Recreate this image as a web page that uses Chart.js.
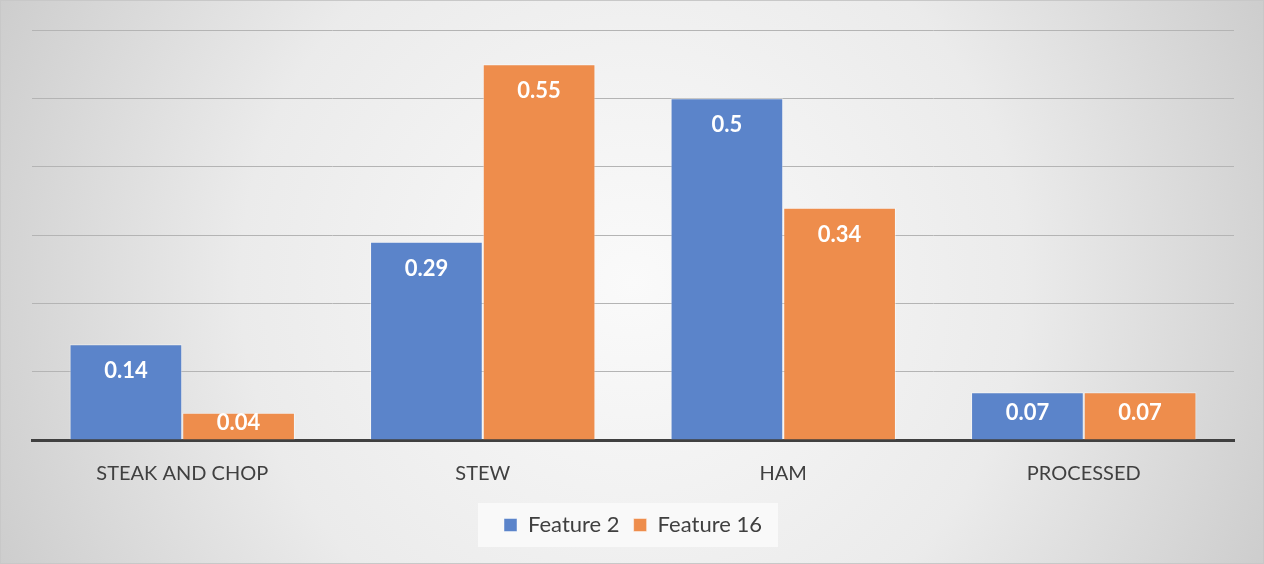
<!DOCTYPE html>
<html><head><meta charset="utf-8">
<script src="https://cdn.jsdelivr.net/npm/chart.js@4"></script>
<style>html,body{margin:0;padding:0;background:#fff}#wrap{width:1264px;height:564px}</style>
</head><body><div id="wrap"><canvas id="c" width="1264" height="564"></canvas></div>
<script>
const categories = ["STEAK AND CHOP", "STEW", "HAM", "PROCESSED"];
const feature2 = [0.14, 0.29, 0.5, 0.07];
const feature16 = [0.04, 0.55, 0.34, 0.07];
const seriesNames = ["Feature 2", "Feature 16"];

const bgPlugin = {
  id: 'bg',
  beforeDraw(chart) {
    const {ctx, width, height} = chart;
    ctx.save();
    const g = ctx.createRadialGradient(width/2, height/2, 0, width/2, height/2, width*0.62);
    g.addColorStop(0, '#fafafa');
    g.addColorStop(0.5, '#ebebeb');
    g.addColorStop(1, '#c4c4c4');
    ctx.fillStyle = g;
    ctx.fillRect(0, 0, width, height);
    ctx.strokeStyle = '#c8c8c8';
    ctx.lineWidth = 1;
    ctx.strokeRect(0.5, 0.5, width-1, height-1);
    const lg = chart.legend;
    if (lg && lg.legendHitBoxes && lg.legendHitBoxes.length) {
      const hb = lg.legendHitBoxes;
      const cy = hb[0].top + hb[0].height/2;
      const l = hb[0].left - 26, r = hb[hb.length-1].left + hb[hb.length-1].width + 16;
      ctx.fillStyle = 'rgba(250,250,250,0.85)';
      ctx.fillRect(l, cy - 22, r - l, 44);
    }
    ctx.restore();
  }
};

const labelPlugin = {
  id: 'vals',
  afterDatasetsDraw(chart) {
    const {ctx} = chart;
    ctx.save();
    ctx.font = 'bold 22px Lato, "Open Sans", sans-serif';
    ctx.fillStyle = '#ffffff';
    ctx.textAlign = 'center';
    ctx.textBaseline = 'middle';
    chart.data.datasets.forEach((ds, i) => {
      const meta = chart.getDatasetMeta(i);
      meta.data.forEach((bar, j) => {
        const top = bar.y, base = bar.base;
        const y = Math.min(top + 27, (top + base)/2 - 3);
        ctx.fillText(String(ds.data[j]), bar.x, y);
      });
    });
    ctx.restore();
  }
};

new Chart(document.getElementById('c'), {
  type: 'bar',
  data: {
    labels: categories,
    datasets: [
      {label: seriesNames[0], data: feature2, backgroundColor: '#5b84ca', borderColor: 'rgba(255,255,255,0.45)', borderWidth: 1, categoryPercentage: 0.75, barPercentage: 1},
      {label: seriesNames[1], data: feature16, backgroundColor: '#ee8d4c', borderColor: 'rgba(255,255,255,0.45)', borderWidth: 1, categoryPercentage: 0.75, barPercentage: 1}
    ]
  },
  plugins: [bgPlugin, labelPlugin],
  options: {
    responsive: false,
    animation: false,
    layout: {padding: {left: 32, right: 30, top: 30, bottom: 18}},
    scales: {
      x: {
        grid: {display: false},
        border: {display: true, color: '#404040', width: 3},
        ticks: {color: '#404040', font: {family: 'Lato, "Open Sans", sans-serif', size: 20}, padding: 14}
      },
      y: {
        min: 0, max: 0.6,
        ticks: {display: false, stepSize: 0.1},
        grid: {color: '#b4b4b4', lineWidth: 1, drawTicks: false},
        border: {display: false},
        afterFit(scale) { scale.width = 0; }
      }
    },
    plugins: {
      legend: {
        position: 'bottom',
        labels: {color: '#404040', font: {family: 'Lato, "Open Sans", sans-serif', size: 22}, boxWidth: 13, boxHeight: 13, padding: 14}
      },
      tooltip: {enabled: false}
    }
  }
});
</script>
</body></html>
